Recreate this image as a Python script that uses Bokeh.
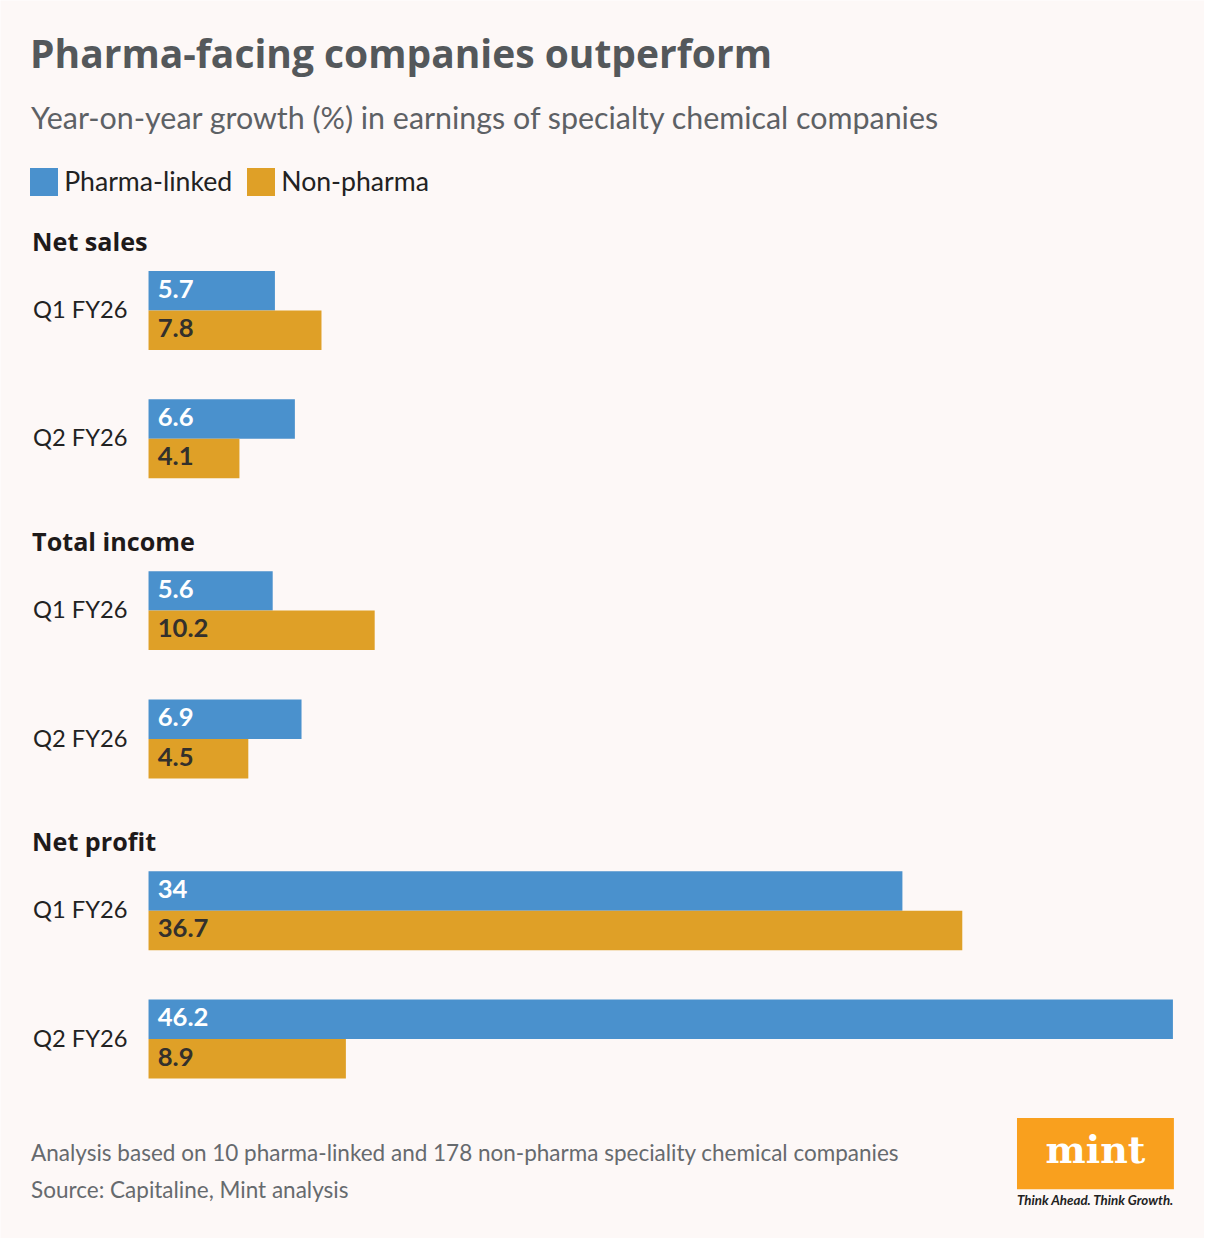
from bokeh.plotting import figure
from bokeh.models import Range1d, ColumnDataSource, Legend, LegendItem
from bokeh.core.properties import value
from bokeh.embed import file_html
from bokeh.resources import INLINE

# ---------------- data ----------------
sections = ["Net sales", "Total income", "Net profit"]
quarters = ["Q1 FY26", "Q2 FY26"]
series_names = ["Pharma-linked", "Non-pharma"]
pharma_linked = [5.7, 6.6, 5.6, 6.9, 34, 46.2]
non_pharma = [7.8, 4.1, 10.2, 4.5, 36.7, 8.9]
pharma_labels = ["5.7", "6.6", "5.6", "6.9", "34", "46.2"]
non_pharma_labels = ["7.8", "4.1", "10.2", "4.5", "36.7", "8.9"]

title = "Pharma-facing companies outperform"
subtitle = "Year-on-year growth (%) in earnings of specialty chemical companies"
note = "Analysis based on 10 pharma-linked and 178 non-pharma speciality chemical companies"
source = "Source: Capitaline, Mint analysis"

# ---------------- style / layout ----------------
BG = "#fdf8f7"
BLUE = "#4a91cd"
ORANGE = "#dfa027"
FONT = "Lato"
FONT_B = "Open Sans"

REF_W, REF_H = 1220, 1254
W, H = 1204, 1238
K = W / REF_W            # reference px -> screen px
C = 0.38                 # baseline correction (fraction of font size)
X0_PX = 150
XMAX_PX = 1188
vmax = max(pharma_linked + non_pharma)
scale = (XMAX_PX - X0_PX) / vmax


def px2x(px):
    return (px - X0_PX) / scale


def fs(size):
    return f"{size * K:.2f}px"


def base(b, size):
    return b - C * size


p = figure(width=W, height=H,
           x_range=Range1d(px2x(0), px2x(REF_W)),
           y_range=Range1d(REF_H, 0),
           x_axis_type=None, y_axis_type=None,
           output_backend="svg", toolbar_location=None, min_border=0)
p.grid.visible = False
p.outline_line_color = None
p.background_fill_color = BG
p.border_fill_color = BG

SEC_STEP = 304
GRP_STEP = 130
BAR_H = 40
FIRST_TOP = 274

yb, yo, yq, qlab = [], [], [], []
for i in range(len(pharma_linked)):
    s, q = divmod(i, 2)
    top = FIRST_TOP + SEC_STEP * s + GRP_STEP * q
    yb.append(top + BAR_H / 2)
    yo.append(top + BAR_H * 1.5)
    yq.append(base(top + BAR_H + 7.7, 24))
    qlab.append(quarters[q])

VAL_FS = 26
src_b = ColumnDataSource(dict(y=yb, v=pharma_linked, lab=pharma_labels,
                              ly=[base(y + 7.7, VAL_FS) for y in yb]))
src_o = ColumnDataSource(dict(y=yo, v=non_pharma, lab=non_pharma_labels,
                              ly=[base(y + 7.7, VAL_FS) for y in yo]))

rb = p.hbar(y="y", left=0, right="v", height=BAR_H, source=src_b,
            fill_color=BLUE, line_color=None)
ro = p.hbar(y="y", left=0, right="v", height=BAR_H, source=src_o,
            fill_color=ORANGE, line_color=None)

p.text(x=0, y="ly", text="lab", source=src_b, x_offset=9.3 * K,
       text_font=value(FONT), text_font_style="bold", text_font_size=fs(VAL_FS),
       text_color="white", text_baseline="alphabetic", text_align="left")
p.text(x=0, y="ly", text="lab", source=src_o, x_offset=9.3 * K,
       text_font=value(FONT), text_font_style="bold", text_font_size=fs(VAL_FS),
       text_color="#33302c", text_baseline="alphabetic", text_align="left")

# quarter labels
p.text(x=px2x(33), y=yq, text=qlab,
       text_font=value(FONT), text_font_size=fs(24), text_color="#222222",
       text_baseline="alphabetic", text_align="left")

# section titles
p.text(x=px2x(32), y=[base(253.3 + SEC_STEP * s, 25.5) for s in range(len(sections))],
       text=sections,
       text_font=value(FONT_B), text_font_style="bold", text_font_size=fs(25.5),
       text_color="#1e1a1a", text_baseline="alphabetic", text_align="left")

# title, subtitle, notes
p.text(x=px2x(30), y=base(67.7, 39.5), text=[title],
       text_font=value(FONT_B), text_font_style="bold", text_font_size=fs(39.5),
       text_color="#54585b", text_baseline="alphabetic", text_align="left")
p.text(x=px2x(31), y=base(130, 30.8), text=[subtitle],
       text_font=value(FONT), text_font_size=fs(30.8),
       text_color="#5d6165", text_baseline="alphabetic", text_align="left")
p.text(x=px2x(31), y=[base(1176, 22.8), base(1213.3, 22.8)], text=[note, source],
       text_font=value(FONT), text_font_size=fs(22.8),
       text_color="#666a6e", text_baseline="alphabetic", text_align="left")

# mint logo
p.quad(left=px2x(1030), right=px2x(1189), top=1132, bottom=1204,
       fill_color="#f9a01e", line_color=None)
p.text(x=px2x(1109.5), y=base(1178, 38.5), text=["mint"],
       text_font=value("DejaVu Serif"), text_font_style="bold", text_font_size=fs(38.5),
       text_color="white", text_baseline="alphabetic", text_align="center")
p.text(x=px2x(1030), y=base(1220.5, 13.5), text=["Think Ahead. Think Growth."],
       text_font=value(FONT), text_font_style="bold italic", text_font_size=fs(13.5),
       text_color="#222222", text_baseline="alphabetic", text_align="left")

# legend (bar legend glyphs are inset by 10% on each side)
GL = 35
legend = Legend(items=[LegendItem(label=series_names[0], renderers=[rb]),
                       LegendItem(label=series_names[1], renderers=[ro])],
                orientation="horizontal",
                location=(26.5 * K, H - (166.5 + GL) * K),
                glyph_width=round(GL * K), glyph_height=round(GL * K),
                label_height=round(GL * K),
                label_standoff=round(3.5 * K), spacing=round(11.3 * K),
                padding=0, margin=0,
                border_line_color=None, background_fill_alpha=0,
                label_text_font=FONT, label_text_font_size=fs(27),
                label_text_color="#222222")
p.add_layout(legend)

open("out.html", "w").write(file_html(p, INLINE))
